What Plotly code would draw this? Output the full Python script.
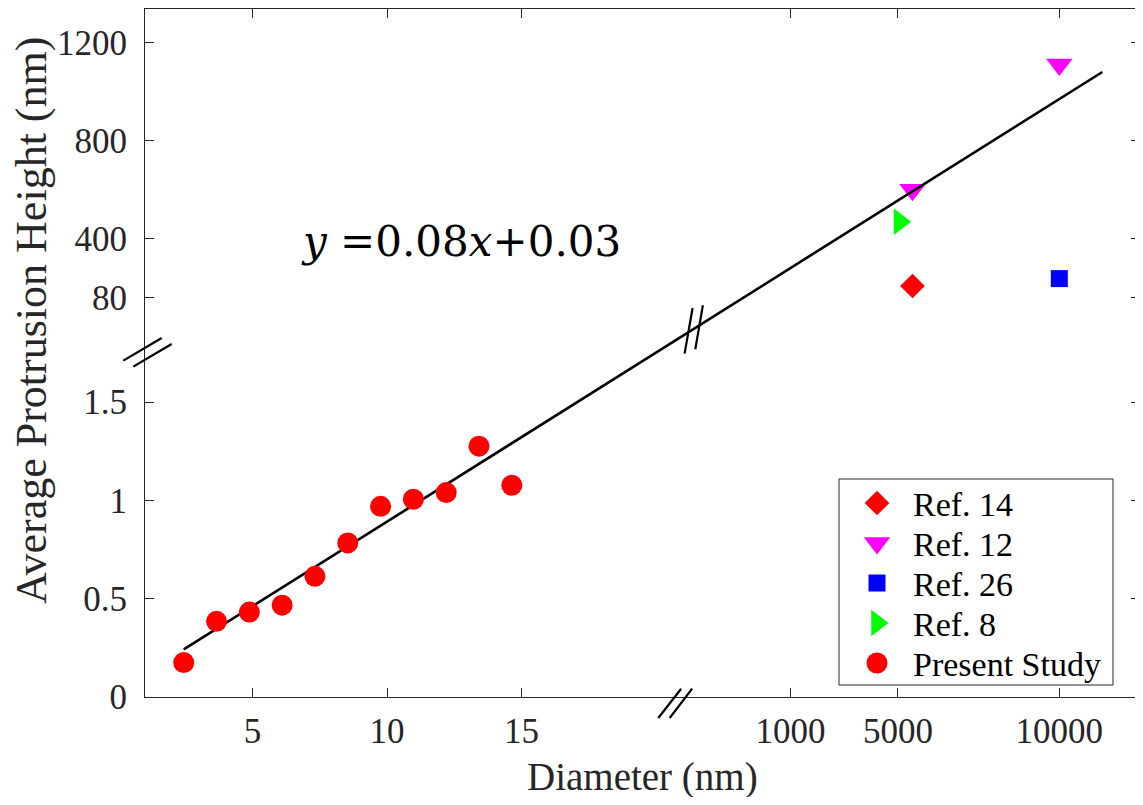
import numpy as np
import plotly.graph_objects as go

# ---------------- data ----------------
# Present study (lower, unbroken segment of both axes)
study_diameter = [2.44, 3.66, 4.88, 6.10, 7.32, 8.54, 9.76, 10.98, 12.20, 13.42, 14.64]
study_height = [0.175, 0.385, 0.432, 0.467, 0.614, 0.784, 0.970, 1.006, 1.040, 1.276, 1.077]

# Literature values (upper segment of both broken axes), in nm
ref14_diameter = [5450]
ref14_height = [145]
ref12_diameter = [5450, 10000]
ref12_height = [600, 1110]
ref26_diameter = [10000]
ref26_height = [185]
ref8_diameter = [5050]
ref8_height = [470]

# Linear fit drawn on the broken-axis scale
fit_slope = 0.086
fit_intercept = 0.032
fit_x_start = 2.44
fit_x_end = 36.6
fit_label = "<i>y</i> =0.08<i>x</i>+0.03"

# Axis ticks
x_ticks_low = [5, 10, 15]
x_ticks_high = [1000, 5000, 10000]
x_ticks_high_scale = [25, 29, 35]
y_ticks_low = [0, 0.5, 1, 1.5]
y_ticks_high = [80, 400, 800, 1200]
y_ticks_high_scale = [2.03, 2.33, 2.83, 3.33]

legend_names = ["Ref. 14", "Ref. 12", "Ref. 26", "Ref. 8", "Present Study"]
legend_symbols = ["diamond", "triangle-down", "square", "triangle-right", "circle"]
legend_colors = ["#FF0000", "#FF00FF", "#0000FF", "#00FF00", "#FF0000"]
legend_sizes = [19, 23, 17, 23, 21]

x_range = [1, 38]
y_range = [0, 3.5]
x_break_at = 20.7
y_break_at = 1.762
line_break_at = 21.4


def bx(v):
    return np.interp(v, x_ticks_high, x_ticks_high_scale)


def by(v):
    return np.interp(v, y_ticks_high, y_ticks_high_scale)


FONT = "Liberation Serif"
AX = "#262626"

# page offset (body margin) compensation
W, H = 1135, 789
ML, MR, MT, MB = 137, 3, 1, 100

fig = go.Figure()

series = [
    (bx(ref14_diameter), by(ref14_height)),
    (bx(ref12_diameter), by(ref12_height)),
    (bx(ref26_diameter), by(ref26_height)),
    (bx(ref8_diameter), by(ref8_height)),
]
for (xs, ys), nm, sym, col, sz in zip(series, legend_names[:4], legend_symbols[:4],
                                      legend_colors[:4], legend_sizes[:4]):
    fig.add_trace(go.Scatter(x=xs, y=ys, mode="markers", name=nm, showlegend=False,
                             marker=dict(symbol=sym, size=sz, color=col, line=dict(width=0))))

fit_x = np.array([fit_x_start, fit_x_end])
fig.add_trace(go.Scatter(
    x=fit_x, y=fit_slope * fit_x + fit_intercept, mode="lines", showlegend=False,
    line=dict(color="black", width=2.6), hoverinfo="skip"))

fig.add_trace(go.Scatter(
    x=study_diameter, y=study_height, mode="markers", name=legend_names[4], showlegend=False,
    marker=dict(symbol=legend_symbols[4], size=legend_sizes[4], color=legend_colors[4],
                line=dict(width=0))))

# ---------- custom legend (overlay axes in pixel units) ----------
leg_x0, leg_x1 = (839 - 145) / 995, (1113 - 145) / 995
leg_y0, leg_y1 = (697 - 685) / 688, (697 - 479) / 688
leg_w, leg_h = 274, 206
row_y = [24 + 40 * i for i in range(5)]
for i in range(5):
    fig.add_trace(go.Scatter(
        x=[38], y=[row_y[i]], mode="markers", xaxis="x2", yaxis="y2", showlegend=False,
        hoverinfo="skip",
        marker=dict(symbol=legend_symbols[i], size=legend_sizes[i], color=legend_colors[i],
                    line=dict(width=0))))

annotations = []
for i in range(5):
    annotations.append(dict(
        text=legend_names[i], xref="x2", yref="y2", x=72, y=row_y[i] + 1,
        xanchor="left", yanchor="middle", showarrow=False,
        font=dict(family=FONT, size=34, color="black")))

annotations += [
    dict(text=fit_label, xref="paper", yref="paper", x=0.318, y=0.662,
         xanchor="center", yanchor="middle", showarrow=False,
         font=dict(family="DejaVu Serif", size=42, color="black")),
    dict(text="Diameter (nm)", xref="paper", yref="paper", x=0.5, y=-(777 - 697) / 688,
         xanchor="center", yanchor="middle", showarrow=False,
         font=dict(family=FONT, size=39, color=AX)),
    dict(text="Average Protrusion Height (nm)", xref="paper", yref="paper",
         x=(31 - 145) / 995, y=(697 - 321) / 688, textangle=-90,
         xanchor="center", yanchor="middle", showarrow=False,
         font=dict(family=FONT, size=44, color=AX)),
]

# ---------- break marks ----------
def px_line(xref, yref, xa, ya, x0, x1, y0, y1, w=2.2):
    return dict(type="line", xref=xref, yref=yref, xsizemode="pixel", ysizemode="pixel",
                xanchor=xa, yanchor=ya, x0=x0, x1=x1, y0=y0, y1=y1,
                line=dict(color="black", width=w), layer="above")

y_break_paper = (y_break_at - y_range[0]) / (y_range[1] - y_range[0])
x_break_paper = (x_break_at - x_range[0]) / (x_range[1] - x_range[0])
lb_y = fit_slope * line_break_at + fit_intercept
shapes = [
    dict(type="rect", xref="paper", yref="paper", x0=leg_x0, x1=leg_x1, y0=leg_y0, y1=leg_y1,
         fillcolor="white", line=dict(color=AX, width=1), layer="below"),
    px_line("paper", "paper", 0, y_break_paper, -21.7, 16.7, -10, 12.7),
    px_line("paper", "paper", 0, y_break_paper, -11.7, 26.7, -16, 6.7),
    px_line("paper", "paper", x_break_paper, 0, -16.5, 6.4, -21, 8.3),
    px_line("paper", "paper", x_break_paper, 0, -5.1, 17.4, -21, 8.3),
    px_line("x", "y", line_break_at, lb_y, -9, -1, -24.7, 21),
    px_line("x", "y", line_break_at, lb_y, 1.7, 9.3, -20.3, 23.7),
]

axis_common = dict(
    ticks="inside", ticklen=9, tickwidth=1, tickcolor=AX,
    showline=True, linecolor=AX, linewidth=1, mirror="ticks",
    showgrid=False, zeroline=False, automargin=False,
    tickfont=dict(family=FONT, size=35, color=AX),
)

fig.update_layout(
    width=W, height=H,
    paper_bgcolor="white", plot_bgcolor="rgba(0,0,0,0)",
    margin=dict(l=ML, r=MR, t=MT, b=MB, autoexpand=False),
    font=dict(family=FONT, color=AX),
    showlegend=False,
    xaxis=dict(
        range=x_range,
        tickvals=x_ticks_low + x_ticks_high_scale,
        ticktext=[str(v) for v in x_ticks_low] + [str(v) for v in x_ticks_high],
        ticklabelstandoff=3,
        **axis_common,
    ),
    yaxis=dict(
        range=y_range,
        tickvals=y_ticks_low + y_ticks_high_scale,
        ticktext=[str(v) for v in y_ticks_low] + [str(v) for v in y_ticks_high],
        ticklabelstandoff=10,
        **axis_common,
    ),
    xaxis2=dict(domain=[leg_x0, leg_x1], range=[0, leg_w], anchor="y2", visible=False,
                fixedrange=True),
    yaxis2=dict(domain=[leg_y0, leg_y1], range=[leg_h, 0], anchor="x2", visible=False,
                fixedrange=True),
    shapes=shapes,
    annotations=annotations,
)

fig.write_html("out.html")
